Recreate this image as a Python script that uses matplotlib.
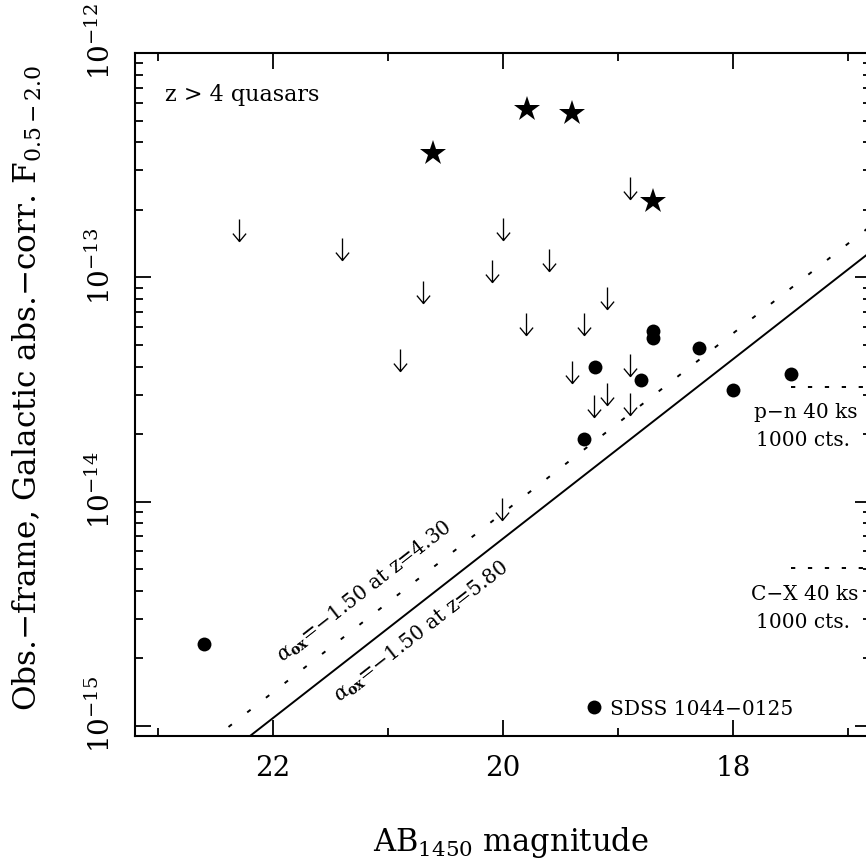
import numpy as np
import matplotlib
matplotlib.use('Agg')
import matplotlib.pyplot as plt
from matplotlib.path import Path
from matplotlib.markers import MarkerStyle
from matplotlib.ticker import FixedLocator, NullFormatter, FixedFormatter, LogLocator
import matplotlib.transforms as mtransforms

plt.rcParams['font.family'] = ['DejaVu Serif', 'DejaVu Sans']
plt.rcParams['mathtext.fontset'] = 'dejavuserif'

# ---------------- data ----------------
star_mag = [20.61, 19.79, 19.40, 18.70]
star_flux = [3.59e-13, 5.63e-13, 5.41e-13, 2.19e-13]

det_mag = [19.20, 18.80, 18.70, 18.70, 18.30, 19.30, 18.00, 17.50, 22.60]
det_flux = [3.99e-14, 3.49e-14, 5.78e-14, 5.38e-14, 4.85e-14, 1.91e-14,
            3.16e-14, 3.72e-14, 2.31e-15]

lim_mag = [22.30, 21.40, 20.70, 20.90, 20.00, 20.10, 19.60, 18.90, 19.10,
           19.80, 19.30, 19.40, 18.90, 19.10, 19.21, 18.90, 20.01]
lim_flux = [1.82e-13, 1.50e-13, 9.64e-14, 4.81e-14, 1.84e-13, 1.20e-13,
            1.34e-13, 2.81e-13, 9.08e-14, 6.95e-14, 6.95e-14, 4.25e-14,
            4.56e-14, 3.39e-14, 3.00e-14, 3.06e-14, 1.04e-14]

sdss_name = 'SDSS 1044\u22120125'
sdss_mag = [19.21]
sdss_flux = [1.22e-15]

alpha_ox = '\u22121.50'
alpha_z = ['4.30', '5.80']
alpha_flux_at_m20 = [10**-14.05, 10**-14.165]
line_mag = [23.2, 16.8]

limit_names = ['p\u2212n 40 ks', 'C\u2212X 40 ks']
limit_counts = '1000 cts.'
limit_flux = [10**-13.488, 10**-14.298]
limit_mag = [17.5, 16.8]

xlim = (23.2, 16.8)
ylim = (10**-15.045, 1e-12)
x_major = [22, 20, 18]
x_major_labels = ['22', '20', '18']
x_minor = [23, 21, 19, 17]
y_major = [1e-15, 1e-14, 1e-13, 1e-12]
y_major_labels = ['$10^{-15}$', '$10^{-14}$', '$10^{-13}$', '$10^{-12}$']

title_text = 'z > 4 quasars'
xlabel = 'AB$_{1450}$ magnitude'
ylabel = 'Obs.\u2212frame, Galactic abs.\u2212corr. F$_{0.5-2.0}$'

# ---------------- figure ----------------
W, H = 866, 867
fig = plt.figure(figsize=(W / 100, H / 100), dpi=100)
ax = fig.add_axes([135 / W, 131 / H, 736 / W, 683 / H])
ax.set_yscale('log')
ax.set_xlim(*xlim)
ax.set_ylim(*ylim)

# alpha_ox lines
mags = np.array(line_mag)
styles = [dict(ls=(0, (2.2, 10.0)), lw=1.4), dict(ls='-', lw=1.4)]
for f20, st in zip(alpha_flux_at_m20, styles):
    ax.plot(mags, f20 * 10 ** (-0.4 * (mags - 20.0)), color='black', **st)

# flux-limit lines
for fl in limit_flux:
    ax.plot(limit_mag, [fl, fl], color='black', lw=1.4, ls=(0, (2.2, 6.5)))

# upper-limit arrows
arrow_path = Path([(0, 0), (0, -1), (-0.3, -0.64), (0, -1), (0.3, -0.64)],
                  [Path.MOVETO, Path.LINETO, Path.MOVETO, Path.LINETO, Path.LINETO])
arrow_marker = MarkerStyle(arrow_path, joinstyle='round', capstyle='butt')
ax.plot(lim_mag, lim_flux, ls='none', marker=arrow_marker, ms=31.7,
        mfc='none', mec='black', mew=0.95)

# detections
ax.plot(det_mag, det_flux, ls='none', marker='o', ms=10, mfc='black', mec='black', mew=0)
ax.plot(star_mag, star_flux, ls='none', marker='*', ms=19, mfc='black', mec='black', mew=0)
ax.plot(sdss_mag, sdss_flux, ls='none', marker='o', ms=10, mfc='black', mec='black', mew=0)
ax.annotate(sdss_name, xy=(sdss_mag[0], sdss_flux[0]), xytext=(16, -3),
            textcoords='offset pixels', ha='left', va='center', fontsize=14.5)

# limit texts
for name, fl in zip(limit_names, limit_flux):
    ax.annotate(name, xy=(xlim[1], fl), xytext=(-13, -26), textcoords='offset pixels',
                ha='right', va='center', fontsize=14.5)
    ax.annotate(limit_counts, xy=(xlim[1], fl), xytext=(-21, -54), textcoords='offset pixels',
                ha='right', va='center', fontsize=14.5)

# rotated alpha labels
p1 = ax.transData.transform((22.0, alpha_flux_at_m20[1] * 10 ** (-0.4 * 2.0)))
p2 = ax.transData.transform((18.0, alpha_flux_at_m20[1] * 10 ** (0.4 * 2.0)))
ang = np.degrees(np.arctan2(p2[1] - p1[1], p2[0] - p1[0]))
label_pos = [(21.209, 10**-14.400), (20.713, 10**-14.582)]
for z, (lm, lf) in zip(alpha_z, label_pos):
    ax.text(lm, lf, r'$\alpha_{\rm \mathbf{ox}}$=' + alpha_ox + ' at z=' + z,
            rotation=ang, rotation_mode='anchor', ha='center', va='center', fontsize=14.5)

ax.text(0.041, 0.9385, title_text, transform=ax.transAxes, ha='left', va='center', fontsize=16)

# axes styling
for sp in ax.spines.values():
    sp.set_linewidth(1.5)
ax.xaxis.set_major_locator(FixedLocator(x_major))
ax.xaxis.set_major_formatter(FixedFormatter(x_major_labels))
ax.xaxis.set_minor_locator(FixedLocator(x_minor))
ax.yaxis.set_major_locator(FixedLocator(y_major))
ax.yaxis.set_major_formatter(FixedFormatter(y_major_labels))
ax.yaxis.set_minor_locator(LogLocator(base=10, subs=np.arange(2, 10)))
ax.yaxis.set_minor_formatter(NullFormatter())
ax.tick_params(which='both', direction='in', top=True, right=True, width=1.3)
ax.tick_params(which='major', length=11.5)
ax.tick_params(which='minor', length=5.8)
ax.tick_params(axis='x', which='major', labelsize=20, pad=14)
ax.tick_params(axis='y', which='major', labelsize=20, pad=14, labelrotation=90)
off = mtransforms.ScaledTranslation(0, 8 / 72, fig.dpi_scale_trans)
for lab in ax.get_yticklabels():
    lab.set_verticalalignment('center')
    lab.set_transform(lab.get_transform() + off)

ax.set_xlabel(xlabel, fontsize=22)
ax.xaxis.set_label_coords(0.51, -0.13)
ax.set_ylabel(ylabel, fontsize=22.5)
ax.yaxis.set_label_coords(-0.124, 0.51)

fig.savefig('out.png', dpi=100)
